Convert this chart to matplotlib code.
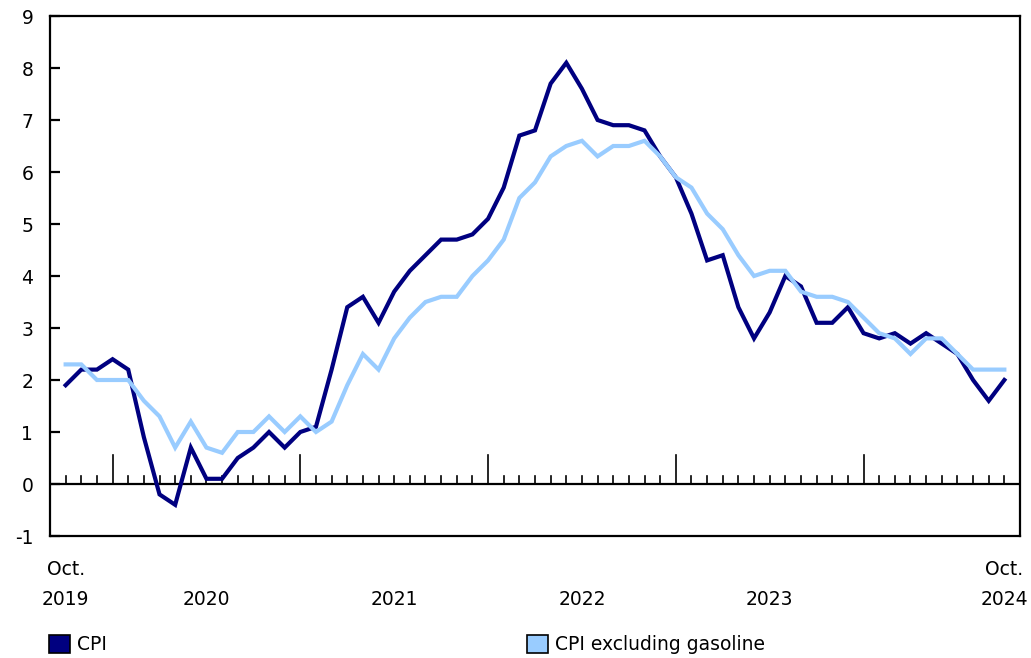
import numpy as np
import matplotlib
matplotlib.use('Agg')
import matplotlib.pyplot as plt
from matplotlib.patches import Patch

# Year-over-year % change, Oct. 2019 to Oct. 2024 (monthly)
cpi = [1.9, 2.2, 2.2, 2.4, 2.2, 0.9, -0.2, -0.4, 0.7, 0.1, 0.1, 0.5,
       0.7, 1.0, 0.7, 1.0, 1.1, 2.2, 3.4, 3.6, 3.1, 3.7, 4.1, 4.4,
       4.7, 4.7, 4.8, 5.1, 5.7, 6.7, 6.8, 7.7, 8.1, 7.6, 7.0, 6.9,
       6.9, 6.8, 6.3, 5.9, 5.2, 4.3, 4.4, 3.4, 2.8, 3.3, 4.0, 3.8,
       3.1, 3.1, 3.4, 2.9, 2.8, 2.9, 2.7, 2.9, 2.7, 2.5, 2.0, 1.6,
       2.0]
cpi_ex_gas = [2.3, 2.3, 2.0, 2.0, 2.0, 1.6, 1.3, 0.7, 1.2, 0.7, 0.6, 1.0,
              1.0, 1.3, 1.0, 1.3, 1.0, 1.2, 1.9, 2.5, 2.2, 2.8, 3.2, 3.5,
              3.6, 3.6, 4.0, 4.3, 4.7, 5.5, 5.8, 6.3, 6.5, 6.6, 6.3, 6.5,
              6.5, 6.6, 6.3, 5.9, 5.7, 5.2, 4.9, 4.4, 4.0, 4.1, 4.1, 3.7,
              3.6, 3.6, 3.5, 3.2, 2.9, 2.8, 2.5, 2.8, 2.8, 2.5, 2.2, 2.2,
              2.2]
series_names = ['CPI', 'CPI excluding gasoline']
colors = ['#000080', '#99ccff']

# x labels: month index from Oct. 2019
year_labels = ['Oct.\n2019', '\n2020', '\n2021', '\n2022', '\n2023', 'Oct.\n2024']
year_label_pos = [0, 9, 21, 33, 45, 60]
jan_pos = [3, 15, 27, 39, 51]

x = np.arange(len(cpi))

plt.rcParams['font.family'] = ['DejaVu Sans']
plt.rcParams['axes.unicode_minus'] = False
fig = plt.figure(figsize=(10.31, 6.58), dpi=100)
ax = fig.add_axes([50 / 1031, 122 / 658, 970 / 1031, 520 / 658])

ax.plot(x, cpi, color=colors[0], lw=3.0, solid_joinstyle='miter', zorder=3)
ax.plot(x, cpi_ex_gas, color=colors[1], lw=3.0, solid_joinstyle='miter', zorder=4)

ax.set_xlim(-1, 61)
ax.set_ylim(-1, 9)

# zero line with month ticks
ax.axhline(0, color='black', lw=1.6, zorder=2)
for m in x:
    h = 0.56 if m in jan_pos else 0.16
    ax.plot([m, m], [0, h], color='black', lw=1.2, zorder=2)

for s in ax.spines.values():
    s.set_linewidth(1.6)

ax.set_yticks(range(-1, 10))
ax.tick_params(axis='y', direction='in', length=7, width=1.6, labelsize=13.5, pad=12)
ax.set_xticks(year_label_pos)
ax.set_xticklabels(year_labels, fontsize=13.5, linespacing=1.75)
ax.tick_params(axis='x', length=0, pad=17)

h1 = [Patch(facecolor=colors[0], edgecolor='black', lw=1.2, label=series_names[0])]
h2 = [Patch(facecolor=colors[1], edgecolor='black', lw=1.2, label=series_names[1])]
leg_kw = dict(loc='lower left', frameon=False, fontsize=13.5, handlelength=1.1,
              handleheight=1.1, handletextpad=0.4, borderpad=0, borderaxespad=0)
fig.legend(handles=h1, bbox_to_anchor=(49 / 1031, 4 / 658), **leg_kw)
fig.legend(handles=h2, bbox_to_anchor=(527 / 1031, 4 / 658), **leg_kw)

plt.savefig('out.png', dpi=100)
